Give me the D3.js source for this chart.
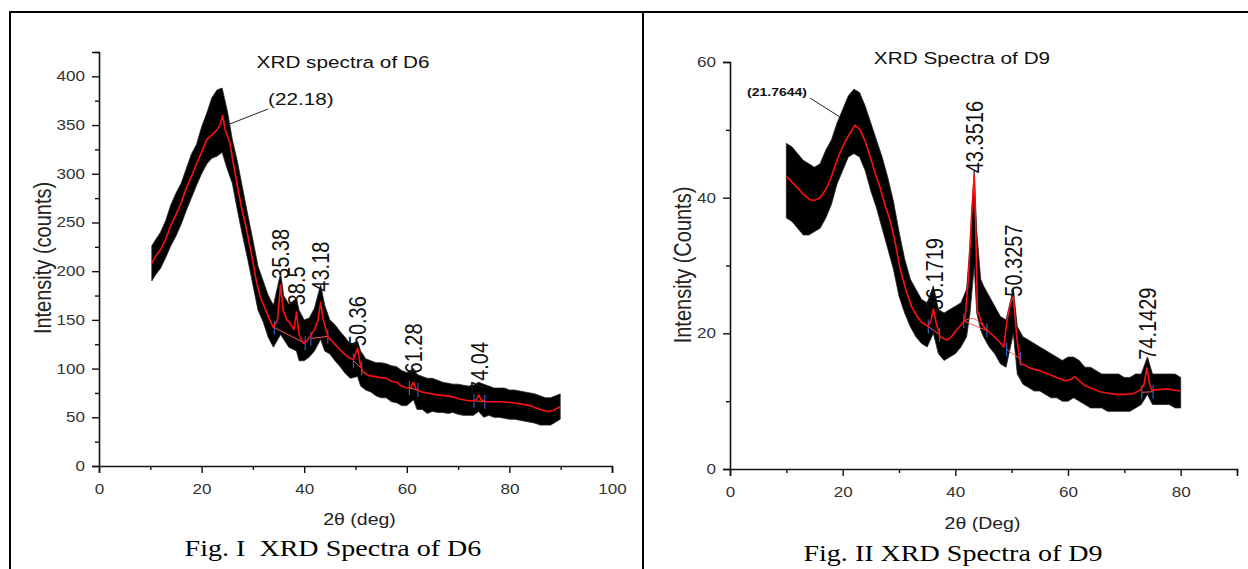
<!DOCTYPE html>
<html>
<head>
<meta charset="utf-8">
<script src="https://cdn.jsdelivr.net/npm/d3@7"></script>
<style>
  html, body { margin: 0; padding: 0; background: #fff; }
  svg { display: block; }
  text { white-space: pre; }
</style>
</head>
<body>
<svg id="fig" width="1248" height="569"></svg>
<script>
/* XRD spectra of D6 and D9 — two panels in a table cell layout */

// ---------- D6 ----------
const d6FitDeg = [10.3, 11, 12, 13, 14, 15, 16, 17, 18, 19, 20, 21, 22, 23, 23.6, 24.1, 24.6, 25.5, 26.2, 26.9,
  27.8, 28.8, 29.8, 30.6, 31.4, 32.5, 33.3, 34, 34.8, 35.4, 35.9, 36.6, 37.2, 38, 38.5, 39, 39.8, 40.5, 41, 42,
  42.7, 43.2, 43.7, 44.7, 46, 47, 48.5, 49.6, 50.4, 50.9, 51.4, 52.5, 54.6, 56, 57, 58, 59, 60, 60.7, 61.3,
  61.9, 63, 64, 65, 66, 67.8, 69, 70, 71, 72, 73, 73.6, 74, 74.5, 75.5, 77, 78.5, 80.7, 82, 83, 84, 85, 86,
  87.3, 88.5, 89.9];
const d6Fit = [208, 215, 222, 233, 247, 258, 270, 285, 297, 310, 322, 335, 340, 345, 350, 360, 345, 332, 310, 290,
  265, 242, 215, 192, 174, 160, 150, 142, 150, 186, 160, 150, 147, 140, 158, 135, 126, 128, 132, 140,
  150, 168, 150, 132, 125, 119, 112, 109, 121, 105, 97, 93, 91, 90, 87, 86, 82, 80, 80, 86,
  78, 76, 75, 74, 73, 72, 71, 69, 68, 67, 67, 68, 73, 68, 66, 66, 66, 65, 64, 63, 62, 60, 58,
  56, 57, 61];

const d6RawDeg = [10.3, 11, 12, 13, 14, 15, 16, 17, 18, 19, 20, 21, 22, 23, 24, 25, 26, 27, 28, 29, 30, 31, 32, 33, 34,
  35.4, 36, 37, 38.5, 39, 40, 41, 42, 43.2, 44, 45, 46, 47, 48, 49, 50.4, 51, 52, 53, 54, 55, 56, 57, 58, 59, 60,
  61.3, 62, 63, 64, 65, 66, 67, 68, 69, 70, 71, 72, 73, 74, 75, 76, 77, 78, 79, 80, 81, 82, 83, 84, 85, 86, 87,
  88, 89, 89.9];
const d6RawHigh = [226, 232, 240, 252, 268, 280, 290, 305, 320, 330, 348, 362, 378, 386, 388, 365, 335, 312, 285, 258, 232, 205, 190, 175, 165,
  198, 175, 166, 172, 160, 150, 152, 162, 186, 165, 150, 145, 138, 132, 125, 128, 118, 110, 108, 106, 106, 105, 103, 102, 98, 96,
  100, 94, 92, 90, 90, 88, 86, 85, 84, 84, 83, 82, 83, 86, 84, 82, 80, 80, 80, 78, 78, 77, 76, 75, 74, 72, 70,
  70, 72, 74];
const d6RawLow = [190, 196, 203, 214, 226, 236, 248, 262, 275, 288, 300, 310, 316, 318, 322, 305, 290, 262, 236, 212, 186, 160, 148, 132, 122,
  135, 130, 122, 118, 108, 108, 112, 118, 130, 118, 115, 108, 102, 95, 90, 92, 82, 78, 76, 72, 70, 70, 66, 65, 62, 62,
  68, 58, 58, 54, 56, 55, 55, 54, 55, 53, 52, 52, 52, 56, 50, 52, 50, 50, 49, 48, 48, 47, 46, 45, 44, 42, 42,
  42, 45, 48];

// fitted background under the peaks: [start deg, start value, end deg, end value]
const d6Background = [[34.2, 142, 40.2, 126], [41.3, 131, 44.6, 133], [49.6, 108, 51.2, 100], [60.5, 80, 62.2, 78], [73.1, 67, 75.2, 66]];
const d6PeakDeg = [35.38, 38.5, 43.18, 50.36, 61.28, 74.04];
const d6PeakLabel = ["35.38", "38.5", "43.18", "50.36", "61.28", "74.04"];
const d6PeakTop = [192, 165, 179, 123, 95, 76];
const d6MajorY = [0, 50, 100, 150, 200, 250, 300, 350, 400];
const d6MinorY = [25, 75, 125, 175, 225, 275, 325, 375, 425];
const d6MajorX = [0, 20, 40, 60, 80, 100];
const d6MinorX = [10, 30, 50, 70, 90];

// ---------- D9 ----------
const d9FitDeg = [10.06, 11, 11.8, 13, 14.2, 15, 16, 17, 17.8, 18.6, 19.5, 20.4, 21.3, 22.2, 23.1, 24, 24.9, 25.7,
  26.6, 27.5, 28.4, 29.3, 30.2, 31.2, 32.2, 33.2, 34.2, 35.2, 35.7, 36.1, 36.6, 37.3, 38.5, 39.4, 40.2, 41,
  41.7, 42.3, 42.9, 43.35, 43.7, 43.9, 44.5, 45, 46, 46.9, 47.8, 48.6, 49.2, 49.8, 50.3, 50.9, 51.5, 52.5,
  53.5, 55, 56.5, 58, 59.5, 60.5, 61.2, 62, 63, 64.5, 65.7, 67, 68.5, 70, 71.5, 72.8, 73.5, 74, 74.5, 74.9,
  76, 77.5, 79, 79.9];
const d9Fit = [43.1, 42.3, 41.6, 40.5, 39.7, 39.6, 40, 41.2, 42.6, 44.6, 46.6, 48.2, 49.5, 50.7, 50, 48.3, 46, 43.8,
  41.6, 39, 36.7, 33.5, 29.5, 26.5, 24, 22.5, 21.5, 21, 22, 23.6, 21.5, 19.5, 19, 19.6, 20.5, 21.2,
  22, 27.9, 37.7, 43.3, 32.7, 23.4, 22, 21, 20.2, 19.5, 18.8, 18, 22, 24.5, 25.4, 19.5, 15.6, 15.2,
  14.8, 14.5, 14, 13.5, 13, 13.2, 13.6, 13, 12.3, 11.8, 11.4, 11.2, 11, 11, 11.1, 11.6, 12.5, 14.9, 12.5, 11.6,
  11.7, 11.8, 11.6, 11.5];

const d9RawDeg = [10, 11, 12, 13, 14, 15, 16, 17, 18, 19, 20, 21, 22, 23, 24, 25, 26, 27, 28, 29, 30, 31, 32, 33, 34, 35,
  36.1, 37, 38, 39, 40, 41, 42, 42.6, 43.35, 43.8, 44.5, 45, 46, 47, 48, 49, 50.3, 51, 52, 53, 54, 55, 56, 57, 58,
  59, 60, 61, 62, 63, 64, 65, 66, 67, 68, 69, 70, 71, 72, 73, 74.1, 75, 76, 77, 78, 79, 80];
const d9RawHigh = [48, 47.5, 46.5, 45.5, 45, 44.5, 45, 47, 48.5, 51, 53, 55, 56, 55.5, 53.5, 51, 48.5, 46, 43, 39.5, 35, 31, 28, 26.5, 25, 24.5,
  27, 23.5, 23, 23.5, 24, 24.5, 26.5, 33, 44, 35, 28, 27, 25.5, 24, 22.5, 22, 26.5, 21, 19.5, 19, 18.5, 18, 17.5, 17, 16.5,
  16, 16.5, 16.5, 16, 15, 15, 14.5, 14, 14, 14, 14, 13.5, 13.5, 14, 14, 16.5, 14, 14, 14, 14, 14, 13.5];
const d9RawLow = [37, 36.5, 35.5, 34.5, 34.5, 35, 35.5, 37, 39, 42, 44, 46, 46.5, 46, 44, 41, 38.5, 35.5, 32.5, 29.5, 25.5, 23, 21, 19.5, 18.5, 18,
  20, 17, 16, 16.5, 17, 18, 19.5, 23, 30, 23, 20.5, 19.5, 18, 17, 15.5, 15, 20, 14, 12.5, 12, 11.5, 11.5, 11, 10.5, 10.5,
  10, 10, 10.5, 10, 9.5, 9, 9, 9, 8.5, 8.5, 8.5, 8.5, 8.5, 9, 9.5, 11, 9.5, 9.5, 9.5, 9.5, 9, 9];

const d9Background = [[35.2, 21, 37.2, 19.8], [41.5, 21.8, 45.6, 20.4], [49.1, 17.6, 51.6, 16.2], [73.1, 11.3, 75.1, 11.4]];
const d9HumpDeg = [41.5, 42.3, 43, 43.7, 44.5, 45.6];
const d9HumpVal = [21.8, 22.1, 22.2, 22, 21.4, 20.4];
const d9PeakDeg = [36.1719, 43.3516, 50.3257, 74.1429];
const d9PeakLabel = ["36.1719", "43.3516", "50.3257", "74.1429"];
const d9PeakTop = [23.4, 43.6, 25.4, 16.1];
const d9MajorY = [0, 20, 40, 60];
const d9MinorY = [10, 30, 50];
const d9MajorX = [0, 20, 40, 60, 80];
const d9MinorX = [10, 30, 50, 70, 90];

// ---------- drawing ----------
const SX = 1.22;              // the scanned figure is stretched sideways
const SANS = '"Liberation Sans", Arial, sans-serif';
const SERIF = '"Liberation Serif", "Times New Roman", serif';

const svg = d3.select("#fig");

function stretched(sel, x, y, rotate) {
  return sel.attr("transform", `translate(${x},${y}) scale(${SX},1)` + (rotate ? ` rotate(${rotate})` : ""));
}

function drawPanel(p) {
  const g = svg.append("g");
  const x = d3.scaleLinear().domain(p.xDomain).range(p.xRange);
  const y = d3.scaleLinear().domain(p.yDomain).range(p.yRange);

  // raw counts (dense noisy trace) as a band
  const raw = p.rawDeg.map((d, i) => ({ deg: d, hi: p.rawHigh[i], lo: p.rawLow[i] }));
  g.append("path")
    .datum(raw)
    .attr("d", d3.area().x(d => x(d.deg)).y0(d => y(d.lo)).y1(d => y(d.hi)))
    .attr("fill", "#000")
    .attr("stroke", "#222")
    .attr("stroke-width", 0.8);

  // fitted background segments
  p.background.forEach(b => {
    g.append("line")
      .attr("x1", x(b[0])).attr("y1", y(b[1]))
      .attr("x2", x(b[2])).attr("y2", y(b[3]))
      .attr("stroke", "#ff5a5a").attr("stroke-width", 1);
    [[b[0], b[1]], [b[2], b[3]]].forEach(e => {
      g.append("line")
        .attr("x1", x(e[0])).attr("x2", x(e[0]))
        .attr("y1", y(e[1]) - 7).attr("y2", y(e[1]) + 7)
        .attr("stroke", "#2f5fbf").attr("stroke-width", 1.2);
    });
  });
  if (p.humpDeg) {
    g.append("path")
      .datum(p.humpDeg.map((d, i) => [d, p.humpVal[i]]))
      .attr("d", d3.line().curve(d3.curveMonotoneX).x(d => x(d[0])).y(d => y(d[1])))
      .attr("fill", "none").attr("stroke", "#ff5a5a").attr("stroke-width", 1);
  }

  // smoothed red line
  g.append("path")
    .datum(p.fitDeg.map((d, i) => [d, p.fit[i]]))
    .attr("d", d3.line().x(d => x(d[0])).y(d => y(d[1])))
    .attr("fill", "none")
    .attr("stroke", "#ff1010")
    .attr("stroke-width", 1.6)
    .attr("stroke-linejoin", "round");

  // axes
  const xAxis = g.append("g").attr("transform", `translate(0,${y(0)})`)
    .call(d3.axisBottom(x).tickValues(p.majorX).tickSize(7).tickPadding(11).tickFormat(d3.format("d")));
  g.append("g").attr("transform", `translate(0,${y(0)})`)
    .call(d3.axisBottom(x).tickValues(p.minorX).tickSize(4).tickFormat(""))
    .call(a => a.select(".domain").remove());
  const yAxis = g.append("g").attr("transform", `translate(${x(0)},0)`)
    .call(d3.axisLeft(y).tickValues(p.majorY).tickSize(7).tickPadding(7).tickFormat(d3.format("d")));
  g.append("g").attr("transform", `translate(${x(0)},0)`)
    .call(d3.axisLeft(y).tickValues(p.minorY).tickSize(4).tickFormat(""))
    .call(a => a.select(".domain").remove());

  g.selectAll(".domain").attr("stroke", "#111").attr("stroke-width", 1.6);
  g.selectAll(".tick line").attr("stroke", "#111").attr("stroke-width", 1.4);
  [xAxis, yAxis].forEach(a => a.selectAll(".tick text")
    .attr("font-family", SANS).attr("font-size", 14).attr("fill", "#333"));
  xAxis.selectAll(".tick text").attr("transform", `scale(${SX},1)`);
  yAxis.selectAll(".tick text").attr("x", -14 / SX).attr("transform", `scale(${SX},1)`);

  // peak labels, rotated, sitting on the peaks
  p.peakDeg.forEach((d, i) => {
    stretched(g.append("text"), x(d), y(p.peakTop[i]), -90)
      .attr("dy", "0.36em")
      .attr("font-family", SANS).attr("font-size", 20).attr("fill", "#111")
      .text(p.peakLabel[i]);
  });

  // title
  stretched(g.append("text"), p.titlePos[0], p.titlePos[1])
    .attr("text-anchor", "middle")
    .attr("font-family", SANS).attr("font-size", 17).attr("fill", "#111")
    .text(p.title);

  // main peak call-out
  g.append("line")
    .attr("x1", p.callout.from[0]).attr("y1", p.callout.from[1])
    .attr("x2", x(p.callout.deg)).attr("y2", y(p.callout.val))
    .attr("stroke", "#222").attr("stroke-width", 1);
  stretched(g.append("text"), p.callout.textPos[0], p.callout.textPos[1])
    .attr("font-family", SANS).attr("font-size", p.callout.size)
    .attr("font-weight", p.callout.bold ? "bold" : "normal").attr("fill", "#111")
    .text(p.callout.text);

  // axis titles
  stretched(g.append("text"), p.yLabelPos[0], p.yLabelPos[1], -90)
    .attr("text-anchor", "middle").attr("dy", "0.36em")
    .attr("font-family", SANS).attr("font-size", 20).attr("fill", "#222")
    .text(p.yLabel);
  stretched(g.append("text"), (p.xRange[0] + p.xRange[1]) / 2 + p.xLabelShift, p.xLabelY)
    .attr("text-anchor", "middle")
    .attr("font-family", SANS).attr("font-size", 16).attr("fill", "#222")
    .text(p.xLabel);

  // figure caption
  stretched(g.append("text"), p.captionPos[0], p.captionPos[1])
    .attr("text-anchor", "middle")
    .attr("font-family", SERIF).attr("font-size", 23).attr("fill", "#000")
    .text(p.caption);
}

drawPanel({
  xDomain: [0, 100], xRange: [99, 612],
  yDomain: [0, 425], yRange: [466, 52],
  fitDeg: d6FitDeg, fit: d6Fit,
  rawDeg: d6RawDeg, rawHigh: d6RawHigh, rawLow: d6RawLow,
  background: d6Background,
  peakDeg: d6PeakDeg, peakLabel: d6PeakLabel, peakTop: d6PeakTop,
  majorX: d6MajorX, minorX: d6MinorX, majorY: d6MajorY, minorY: d6MinorY,
  title: "XRD spectra of D6", titlePos: [343, 68],
  callout: { text: "(22.18)", textPos: [268, 105], size: 17, bold: false, from: [268, 109], deg: 24.5, val: 349 },
  yLabel: "Intensity (counts)", yLabelPos: [42, 258],
  xLabel: "2θ (deg)", xLabelY: 525, xLabelShift: 4,
  caption: "Fig. I  XRD Spectra of D6", captionPos: [333, 556]
});

drawPanel({
  xDomain: [0, 90], xRange: [730, 1237],
  yDomain: [0, 60], yRange: [469, 62],
  fitDeg: d9FitDeg, fit: d9Fit,
  rawDeg: d9RawDeg, rawHigh: d9RawHigh, rawLow: d9RawLow,
  background: d9Background, humpDeg: d9HumpDeg, humpVal: d9HumpVal,
  peakDeg: d9PeakDeg, peakLabel: d9PeakLabel, peakTop: d9PeakTop,
  majorX: d9MajorX, minorX: d9MinorX, majorY: d9MajorY, minorY: d9MinorY,
  title: "XRD Spectra of D9", titlePos: [962, 64],
  callout: { text: "(21.7644)", textPos: [747, 96], size: 11.5, bold: true, from: [810, 98], deg: 19.5, val: 51.9 },
  yLabel: "Intensity (Counts)", yLabelPos: [682, 265],
  xLabel: "2θ (Deg)", xLabelY: 529, xLabelShift: -1,
  caption: "Fig. II XRD Spectra of D9", captionPos: [953, 561]
});

// table rules of the page the figures sit in
const rules = [[9, 12, 1248, 12], [10, 12, 10, 569], [643, 12, 643, 569]];
svg.selectAll("line.rule").data(rules).enter().append("line")
  .attr("class", "rule")
  .attr("x1", d => d[0]).attr("y1", d => d[1]).attr("x2", d => d[2]).attr("y2", d => d[3])
  .attr("stroke", "#000").attr("stroke-width", 2);
</script>
</body>
</html>
